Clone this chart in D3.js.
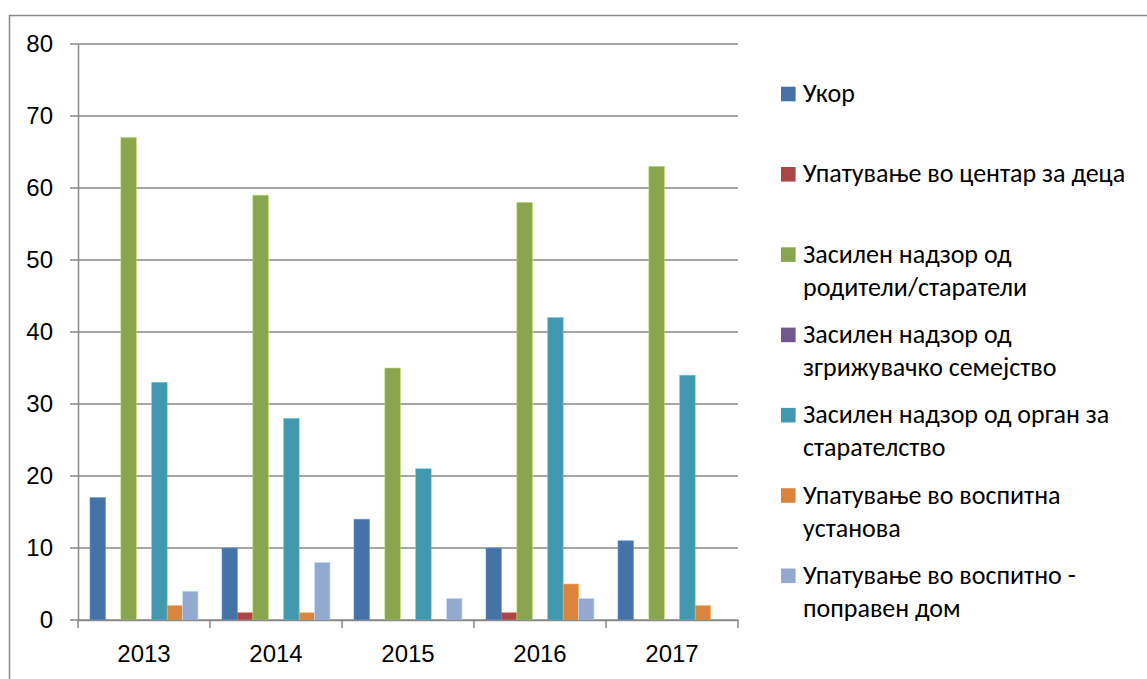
<!DOCTYPE html>
<html>
<head>
<meta charset="utf-8">
<script src="https://cdn.jsdelivr.net/npm/d3@7"></script>
<style>
  body { margin: 0; background: #fff; }
  svg { display: block; font-family: "Carlito", "Liberation Sans", Arial, sans-serif; }
</style>
</head>
<body>
<svg id="chart" width="1147" height="679"></svg>
<script>
let years = ["2013", "2014", "2015", "2016", "2017"];

let series_names = [
    ["Укор"],
    ["Упатување во центар за деца"],
    ["Засилен надзор од", "родители/старатели"],
    ["Засилен надзор од", "згрижувачко семејство"],
    ["Засилен надзор од орган за", "старателство"],
    ["Упатување во воспитна", "установа"],
    ["Упатување во воспитно -", "поправен дом"]
];

let series_colors = ["#4572a7", "#aa4643", "#89a54e", "#71588f", "#4198af", "#db843d", "#93a9cf"];

// one array per series, in the order of years
let ukor      = [17, 10, 14, 10, 11];
let centar    = [0, 1, 0, 1, 0];
let roditeli  = [67, 59, 35, 58, 63];
let semejstvo = [0, 0, 0, 0, 0];
let organ     = [33, 28, 21, 42, 34];
let ustanova  = [2, 1, 0, 5, 2];
let dom       = [4, 8, 3, 3, 0];

let y_ticks = [0, 10, 20, 30, 40, 50, 60, 70, 80];

let all_series = [ukor, centar, roditeli, semejstvo, organ, ustanova, dom];

let svg = d3.select("#chart");
let grid_color = "#898989";

// outer chart border (runs off the picture on right and bottom)
svg.append("rect")
    .attr("x", 9.5)
    .attr("y", 15.5)
    .attr("width", 1200)
    .attr("height", 700)
    .attr("fill", "none")
    .attr("stroke", grid_color)
    .attr("stroke-width", 1.5);

let x0 = d3.scaleBand().domain(years).range([78, 738]);
let x1 = d3.scaleBand().domain(d3.range(all_series.length)).range([12, 120]);
let y = d3.scaleLinear().domain([0, 80]).range([620, 44]);

// horizontal gridlines
svg.append("g")
    .selectAll("line").data(y_ticks).join("line")
    .attr("x1", 70)
    .attr("x2", 738)
    .attr("y1", d => y(d))
    .attr("y2", d => y(d))
    .attr("stroke", grid_color)
    .attr("stroke-width", 1.5);

let y_axis = d3.axisLeft(y).tickValues(y_ticks).tickSize(0).tickPadding(25);
svg.append("g")
    .attr("transform", "translate(78,0)")
    .call(y_axis)
    .call(g => g.select(".domain").attr("stroke", grid_color).attr("stroke-width", 1.5))
    .call(g => g.selectAll("text").style("font-size", "24px").attr("fill", "#000"));

// bars
let bar_groups = svg.append("g")
    .selectAll("g").data(years).join("g")
    .attr("transform", d => "translate(" + x0(d) + ",0)");

bar_groups.selectAll("rect")
    .data((d, j) => all_series.map((s, i) => ({i: i, v: s[j]})))
    .join("rect")
    .attr("x", d => x1(d.i))
    .attr("y", d => y(d.v))
    .attr("width", x1.bandwidth())
    .attr("height", d => y(0) - y(d.v))
    .attr("fill", d => series_colors[d.i])
    .attr("stroke", d => d.v > 0 ? d3.color(series_colors[d.i]).brighter(0.8) : "none")
    .attr("stroke-width", 0.6);

// x axis with ticks at category boundaries
let x_axis = d3.axisBottom(x0).tickSize(0).tickPadding(25);
svg.append("g")
    .attr("transform", "translate(0,620)")
    .call(x_axis)
    .call(g => g.select(".domain").attr("stroke", grid_color).attr("stroke-width", 1.5))
    .call(g => g.selectAll("text").style("font-size", "24px").attr("fill", "#000"));

svg.append("g")
    .selectAll("line").data(years.concat(["end"])).join("line")
    .attr("x1", (d, i) => i < years.length ? x0(d) : x0.range()[1])
    .attr("x2", (d, i) => i < years.length ? x0(d) : x0.range()[1])
    .attr("y1", 620)
    .attr("y2", 628)
    .attr("stroke", grid_color)
    .attr("stroke-width", 1.5);

// legend
let legend = svg.append("g");
let items = legend.selectAll("g").data(series_names).join("g")
    .attr("transform", (d, i) => "translate(781," + (94 + i * 80.3) + ")");

items.append("rect")
    .attr("x", 0)
    .attr("y", -7.3)
    .attr("width", 14.6)
    .attr("height", 14.6)
    .attr("fill", (d, i) => series_colors[i]);

items.selectAll("text").data(d => d).join("text")
    .attr("x", 22)
    .attr("y", (d, k) => 8 + k * 33)
    .style("font-size", "26px")
    .attr("fill", "#000")
    .text(d => d);
</script>
</body>
</html>
